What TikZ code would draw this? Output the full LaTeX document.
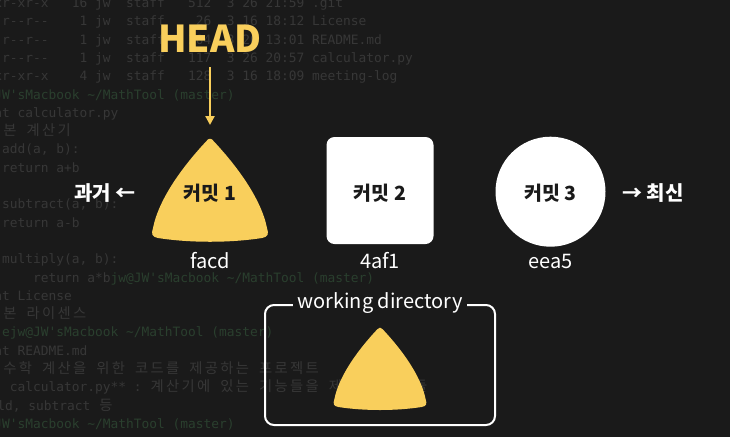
\documentclass[tikz,border=0pt]{standalone}
\usepackage{fontspec}
\usetikzlibrary{arrows.meta}
\newfontfamily\kr{Noto Sans CJK KR}
\newfontfamily\mono{DejaVu Sans Mono}
\definecolor{bgc}{HTML}{1A1A1A}
\definecolor{bgt}{HTML}{373737}
\definecolor{bgg}{HTML}{2A3F2E}
\definecolor{pickyellow}{HTML}{F9CF5C}
\definecolor{inktext}{HTML}{1A1A1A}
\newcommand\bgkorean{\fontsize{14.3}{14.3}\kr}
\newcommand\K[1]{\KKloop#1\relax}
\def\KKloop#1{\ifx#1\relax\else\makebox[15.5pt]{\bgkorean #1}\expandafter\KKloop\fi}
\newcommand\tl{\textasciitilde}
\tikzset{
  bgline/.style={anchor=base west, inner sep=0pt, text=bgt, font=\mono\fontsize{12.87}{12.87}\selectfont},
  guitarpick/.pic={\fill[pickyellow] (-3.5,3) .. controls (-26,27) and (-51,60) .. (-57,90)
      .. controls (-59,96) and (-58,99) .. (-52,100)
      .. controls (-20,105) and (20,105) .. (52,100)
      .. controls (58,99) and (59,96) .. (57,90)
      .. controls (51,60) and (26,27) .. (3.5,3)
      .. controls (1.5,0) and (-1.5,0) .. (-3.5,3) -- cycle;},
  commitlabel/.style={anchor=base, inner sep=0pt, text=inktext, font=\kr\bfseries\fontsize{19.5}{19.5}\selectfont},
  hashlabel/.style={anchor=base, inner sep=0pt, text=white, font=\kr\fontsize{20}{20}\selectfont},
  sidelabel/.style={inner sep=0pt, text=white, font=\kr\bfseries\fontsize{20}{20}\selectfont},
}
\begin{document}
\begin{tikzpicture}[x=1pt,y=-1pt]
\useasboundingbox (0,0) rectangle (730,437);
\fill[bgc] (0,0) rectangle (730,437);
\begin{scope}
\clip (0,0) rectangle (730,437);
\node[bgline] (l1) at (-29,7.5) {drwxr-xr-x~~~16~jw~~staff~~~512~~3~26~21:59~.git};
\node[bgline] (l2) at (-29,25.8) {-rw-r--r--~~~~1~jw~~staff~~~~26~~3~16~18:12~License};
\node[bgline] (l3) at (-29,44.1) {-rw-r--r--~~~~1~jw~~staff~~~204~~3~26~13:01~README.md};
\node[bgline] (l4) at (-29,62.4) {-rw-r--r--~~~~1~jw~~staff~~~117~~3~26~20:57~calculator.py};
\node[bgline] (l5) at (-29,80.7) {drwxr-xr-x~~~~4~jw~~staff~~~128~~3~16~18:09~meeting-log};
\node[bgline, text=bgg] (l6) at (-29,99.0) {jw@JW'sMacbook~\tl/MathTool~(master)};
\node[bgline] (l7) at (-29,117.3) {\$~cat~calculator.py};
\node[bgline] (l8) at (-29,135.6) {\#~\K{기본}~\K{계산기}};
\node[bgline] (l9) at (-29,153.9) {def~add(a,~b):};
\node[bgline] (l10) at (-29,172.2) {~~~~return~a+b};
\node[bgline] (l12) at (-29,208.8) {def~subtract(a,~b):};
\node[bgline] (l13) at (-29,227.1) {~~~~return~a-b};
\node[bgline] (l15) at (-29,263.7) {def~multiply(a,~b):};
\node[bgline] (l16) at (-29,282.0) {~~~~~~~~return~a*b\textcolor{bgg}{jw@JW'sMacbook~\tl/MathTool~(master)}};
\node[bgline] (l17) at (-29,300.3) {\$~cat~License};
\node[bgline] (l18) at (-29,318.6) {\#~\K{기본}~\K{라이센스}};
\node[bgline, text=bgg] (l19) at (-29,336.9) {~~~~ejw@JW'sMacbook~\tl/MathTool~(master)};
\node[bgline] (l20) at (-29,355.2) {\$~cat~README.md};
\node[bgline] (l21) at (-29,373.5) {~~~~\K{수학}~\K{계산을}~\K{위한}~\K{코드를}~\K{제공하는}~\K{프로젝트}};
\node[bgline] (l22) at (-29,391.8) {~~~~~calculator.py**~:~\K{계산기에}~\K{있는}~\K{기능들을}~\K{제공하는}~\K{모듈}};
\node[bgline] (l23) at (-26,410.1) {~~~ld,~subtract~\K{등}};
\node[bgline, text=bgg] (l24) at (-29,428.4) {jw@JW'sMacbook~\tl/MathTool~(master)};
\end{scope}

% HEAD and arrow
\node[anchor=base, inner sep=0pt, text=pickyellow, font=\kr\bfseries\fontsize{37}{37}\selectfont] (head) at (210,52) {HEAD};
\coordinate (c1top) at (210,138);
\draw[pickyellow, line width=2.2pt, -{Triangle[width=9pt,length=9pt]}, shorten <=15pt, shorten >=13pt] (head.south) -- (c1top);

% commit 1
\pic (c1shape) at (210,138) {guitarpick};
\node[commitlabel] (c1) at (210,200) {커밋 1};
\node[hashlabel] (h1) at (210,268) {facd};

% commit 2
\node[fill=white, rounded corners=8pt, minimum size=107pt, inner sep=0pt] (c2box) at (380,190.5) {};
\node[commitlabel] (c2) at (380,200) {커밋 2};
\node[hashlabel] (h2) at (380,268) {4af1};

% commit 3
\node[circle, fill=white, minimum size=110pt, inner sep=0pt] (c3box) at (550.5,191.7) {};
\node[commitlabel] (c3) at (550.5,200) {커밋 3};
\node[hashlabel] (h3) at (550.5,268) {eea5};

% side labels
\node[sidelabel, anchor=base east] (past) at (136,200) {과거 ←};
\node[sidelabel, anchor=base west] (recent) at (622,200) {→ 최신};

% working directory
\node[draw=white, line width=2pt, rounded corners=9pt, minimum width=230pt, minimum height=120pt, inner sep=0pt] (wd) at (380,365) {};
\node[anchor=base, fill=bgc, inner xsep=5pt, inner ysep=1pt, text=white, font=\kr\fontsize{20}{20}\selectfont] (wdlabel) at (380,308) {working directory};
\pic[scale=0.8] (wdpick) at (380,327) {guitarpick};
\end{tikzpicture}
\end{document}
